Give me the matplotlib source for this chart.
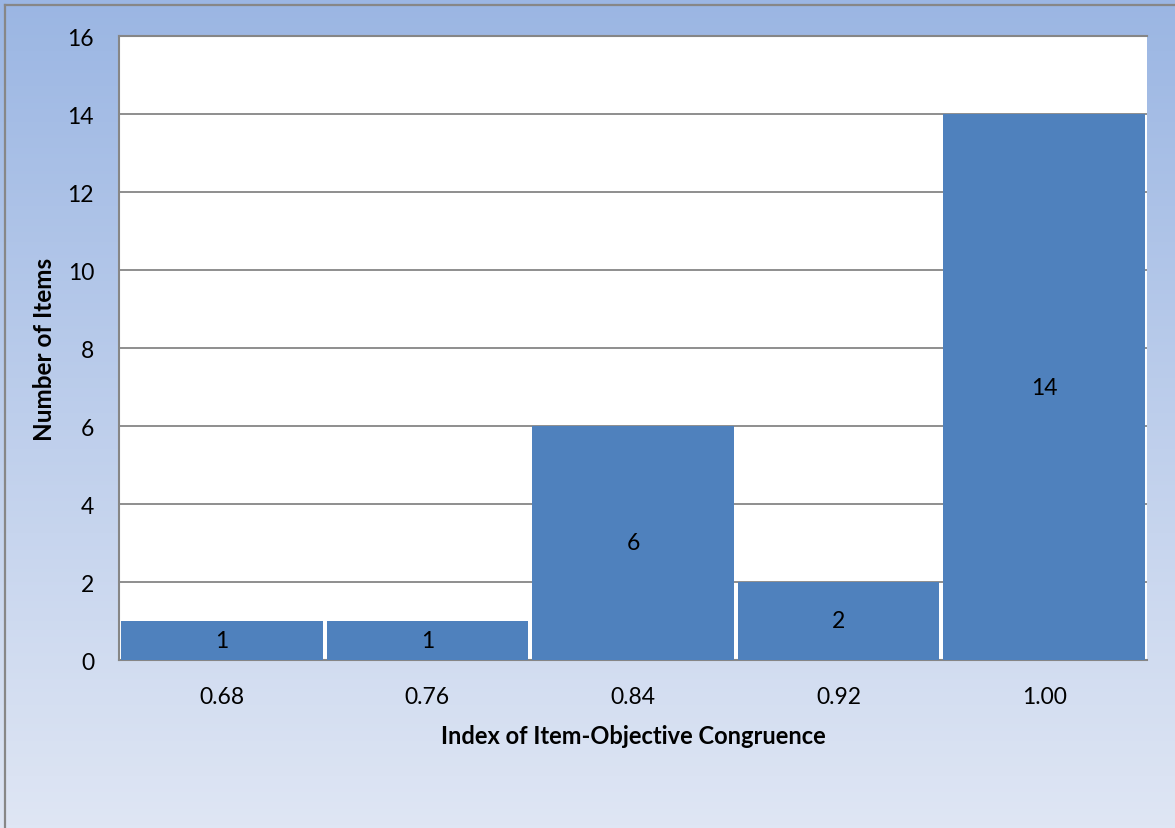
import numpy as np
import matplotlib
matplotlib.use("Agg")
import matplotlib.pyplot as plt
from matplotlib.lines import Line2D

categories = ["0.68", "0.76", "0.84", "0.92", "1.00"]
counts = [1, 1, 6, 2, 14]
y_ticks = [0, 2, 4, 6, 8, 10, 12, 14, 16]

plt.rcParams["font.family"] = ["Lato", "DejaVu Sans"]

fig = plt.figure(figsize=(11.75, 8.29), dpi=100)

# vertical gradient background for the whole chart area
bg = fig.add_axes([0, 0, 1, 1], zorder=-10)
top = np.array([0x9B, 0xB6, 0xE3]) / 255
bottom = np.array([0xDF, 0xE6, 0xF4]) / 255
t = np.linspace(0, 1, 256)[:, None]
grad = top * (1 - t) + bottom * t
bg.imshow(grad[:, None, :], aspect="auto", extent=[0, 1, 0, 1], origin="upper")
bg.set_axis_off()

# chart border (left and top edges)
fig.add_artist(Line2D([5 / 1175, 5 / 1175], [0, 1 - 6 / 829], transform=fig.transFigure,
                      color="#878787", lw=1.6))
fig.add_artist(Line2D([5 / 1175, 1], [1 - 6 / 829, 1 - 6 / 829], transform=fig.transFigure,
                      color="#878787", lw=1.6))

ax = fig.add_axes([119 / 1175, 1 - 661 / 829, (1147 - 119) / 1175, (661 - 37) / 829])
ax.set_facecolor("white")

x = np.arange(len(categories))
bars = ax.bar(x, counts, width=0.98, color="#4F81BD", zorder=3)
for b, v in zip(bars, counts):
    ax.text(b.get_x() + b.get_width() / 2, v / 2, str(v), ha="center", va="center",
            fontsize=16.5, color="black", zorder=4)

ax.set_xlim(-0.5, len(categories) - 0.5)
ax.set_ylim(0, 16)
ax.set_yticks(y_ticks)
ax.set_xticks(x)
ax.set_xticklabels(categories)
ax.tick_params(axis="both", length=0, labelsize=16.5, colors="black")
ax.tick_params(axis="x", pad=19)
ax.tick_params(axis="y", pad=18)
ax.grid(axis="y", color="#868686", lw=1.3, zorder=1)
ax.set_axisbelow(True)

for side in ["left", "top", "bottom"]:
    ax.spines[side].set_color("#868686")
    ax.spines[side].set_linewidth(1.5)
ax.spines["right"].set_visible(False)

ax.set_xlabel("Index of Item-Objective Congruence", fontsize=17, fontweight="bold", labelpad=12)
ax.set_ylabel("Number of Items", fontsize=17.5, fontweight="bold", labelpad=8)

fig.savefig("out.png", dpi=100)
